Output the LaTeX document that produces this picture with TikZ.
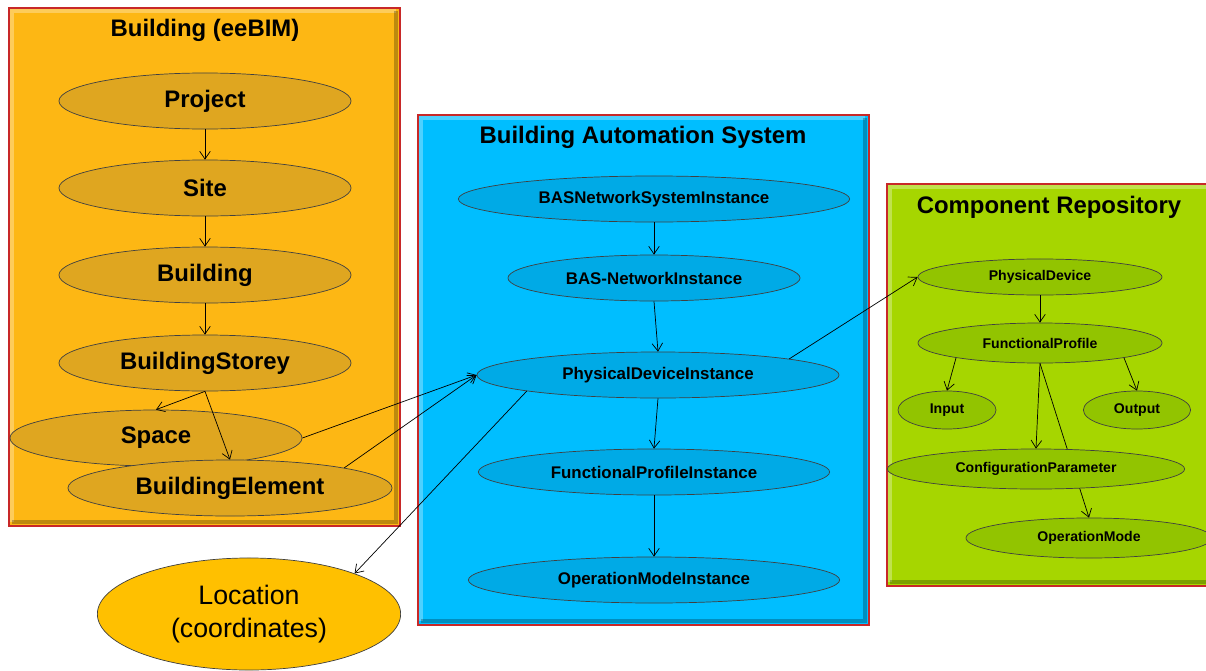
\documentclass[tikz,border=0pt]{standalone}
\usepackage{fontspec}
\setmainfont{Liberation Sans}
\usetikzlibrary{arrows.meta,shapes.geometric}

\definecolor{bimbg}{RGB}{253,183,20}
\definecolor{bimell}{RGB}{223,166,32}
\definecolor{basbg}{RGB}{0,190,255}
\definecolor{basell}{RGB}{0,170,230}
\definecolor{repbg}{RGB}{166,214,0}
\definecolor{repell}{RGB}{146,196,0}
\definecolor{locfill}{RGB}{255,192,0}
\definecolor{panelline}{RGB}{200,40,40}

\begin{document}
\begin{tikzpicture}[
  x=0.025cm, y=-0.025cm,
  panel/.style={draw=panelline, line width=0.8pt},
  shadeedge/.style={line width=2.5pt, black, opacity=0.25},
  lightedge/.style={line width=2.5pt, white, opacity=0.3},
  bimnode/.style={ellipse, draw=black!75, fill=bimell, minimum height=1.4cm,
                  inner sep=0pt, font=\fontsize{17}{20}\selectfont\bfseries},
  basnode/.style={ellipse, draw=black!75, fill=basell, minimum height=1.15cm,
                  inner sep=0pt, font=\fontsize{12}{14}\selectfont\bfseries},
  repnode/.style={ellipse, draw=black!75, fill=repell, minimum height=1cm,
                  inner sep=0pt, font=\fontsize{10}{12}\selectfont\bfseries},
  title/.style={font=\fontsize{17}{20}\selectfont\bfseries},
  >={Straight Barb[length=5.5pt,width=7.5pt]}, color=black, line width=0.5pt
]
  \useasboundingbox (0,0) rectangle (1206,671);

  % panels
  \draw[panel, fill=bimbg] (9,8)    rectangle (400,526);
  \draw[lightedge] (12,522) -- (12,11) -- (396,11);
  \draw[shadeedge] (396,11) -- (396,522) -- (12,522);
  \draw[panel, fill=basbg] (418,115) rectangle (869,625);
  \draw[lightedge] (421,621) -- (421,118) -- (865,118);
  \draw[shadeedge] (865,118) -- (865,621) -- (421,621);
  \draw[panel, fill=repbg] (887,184) rectangle (1212,586);
  \draw[lightedge] (890,582) -- (890,187) -- (1212,187);
  \draw[shadeedge] (890,582) -- (1212,582);

  \node[title] (bimtitle) at (205,30)  {Building (eeBIM)};
  \node[title] (bastitle) at (643,137) {Building Automation System};
  \node[title] (reptitle) at (1049,207) {Component Repository};

  % building
  \node[bimnode, minimum width=7.3cm] (project) at (205,101) {Project};
  \node[bimnode, minimum width=7.3cm] (site)    at (205,188) {Site};
  \node[bimnode, minimum width=7.3cm] (bldg)    at (205,275) {Building};
  \node[bimnode, minimum width=7.3cm] (storey)  at (205,363) {BuildingStorey};
  \node[bimnode, minimum width=7.3cm] (space)   at (156,438) {Space};
  \node[bimnode, minimum width=8.1cm] (element) at (230,488) {BuildingElement};

  \node[ellipse, draw=black!75, fill=locfill, minimum width=7.58cm, minimum height=2.8cm,
        inner sep=0pt, align=center, font=\fontsize{19}{24}\selectfont]
        (location) at (249,614) {Location\\(coordinates)};

  % automation system
  \node[basnode, minimum width=9.78cm] (bassys) at (654,199) {BASNetworkSystemInstance};
  \node[basnode, minimum width=7.3cm]  (basnet) at (654,278) {BAS-NetworkInstance};
  \node[basnode, minimum width=9.05cm] (pdi)    at (658,375) {PhysicalDeviceInstance};
  \node[basnode, minimum width=8.78cm] (fpi)    at (654,472) {FunctionalProfileInstance};
  \node[basnode, minimum width=9.28cm] (omi)    at (654,580) {OperationModeInstance};

  % repository
  \node[repnode, minimum width=6.1cm, minimum height=0.9cm] (pdev) at (1040,277) {PhysicalDevice};
  \node[repnode, minimum width=6.1cm]  (fprof)  at (1040,343) {FunctionalProfile};
  \node[repnode, minimum width=2.45cm, minimum height=0.95cm] (input)  at (947,410)  {Input};
  \node[repnode, minimum width=2.68cm, minimum height=0.95cm] (output) at (1137,410) {Output};
  \node[repnode, minimum width=6.15cm] (opmode) at (1089,538) {OperationMode};
  \draw[->] (fprof.south) -- (opmode.north);
  \node[repnode, minimum width=7.43cm] (config) at (1036,469) {ConfigurationParameter};

  \draw[->] (project) -- (site);
  \draw[->] (site) -- (bldg);
  \draw[->] (bldg) -- (storey);
  \draw[->] (storey.south) -- (space.north);
  \draw[->] (storey.south) -- (element.north);
  \draw[->] (space.east) -- (pdi.west);
  \draw[->] (element.10) -- (pdi.west);
  \draw[->] (pdi.187) -- (location.21);
  \draw[->] (pdi.7) -- (pdev.west);

  \draw[->] (bassys) -- (basnet);
  \draw[->] (basnet.south) -- (pdi.north);
  \draw[->] (pdi.south) -- (fpi.north);
  \draw[->] (fpi) -- (omi);

  \draw[->] (pdev) -- (fprof);
  \draw[->] (fprof.190) -- (input.north);
  \draw[->] (fprof.-10) -- (output.north);
  \draw[->] (fprof.south) -- (config.north);
\end{tikzpicture}
\end{document}
